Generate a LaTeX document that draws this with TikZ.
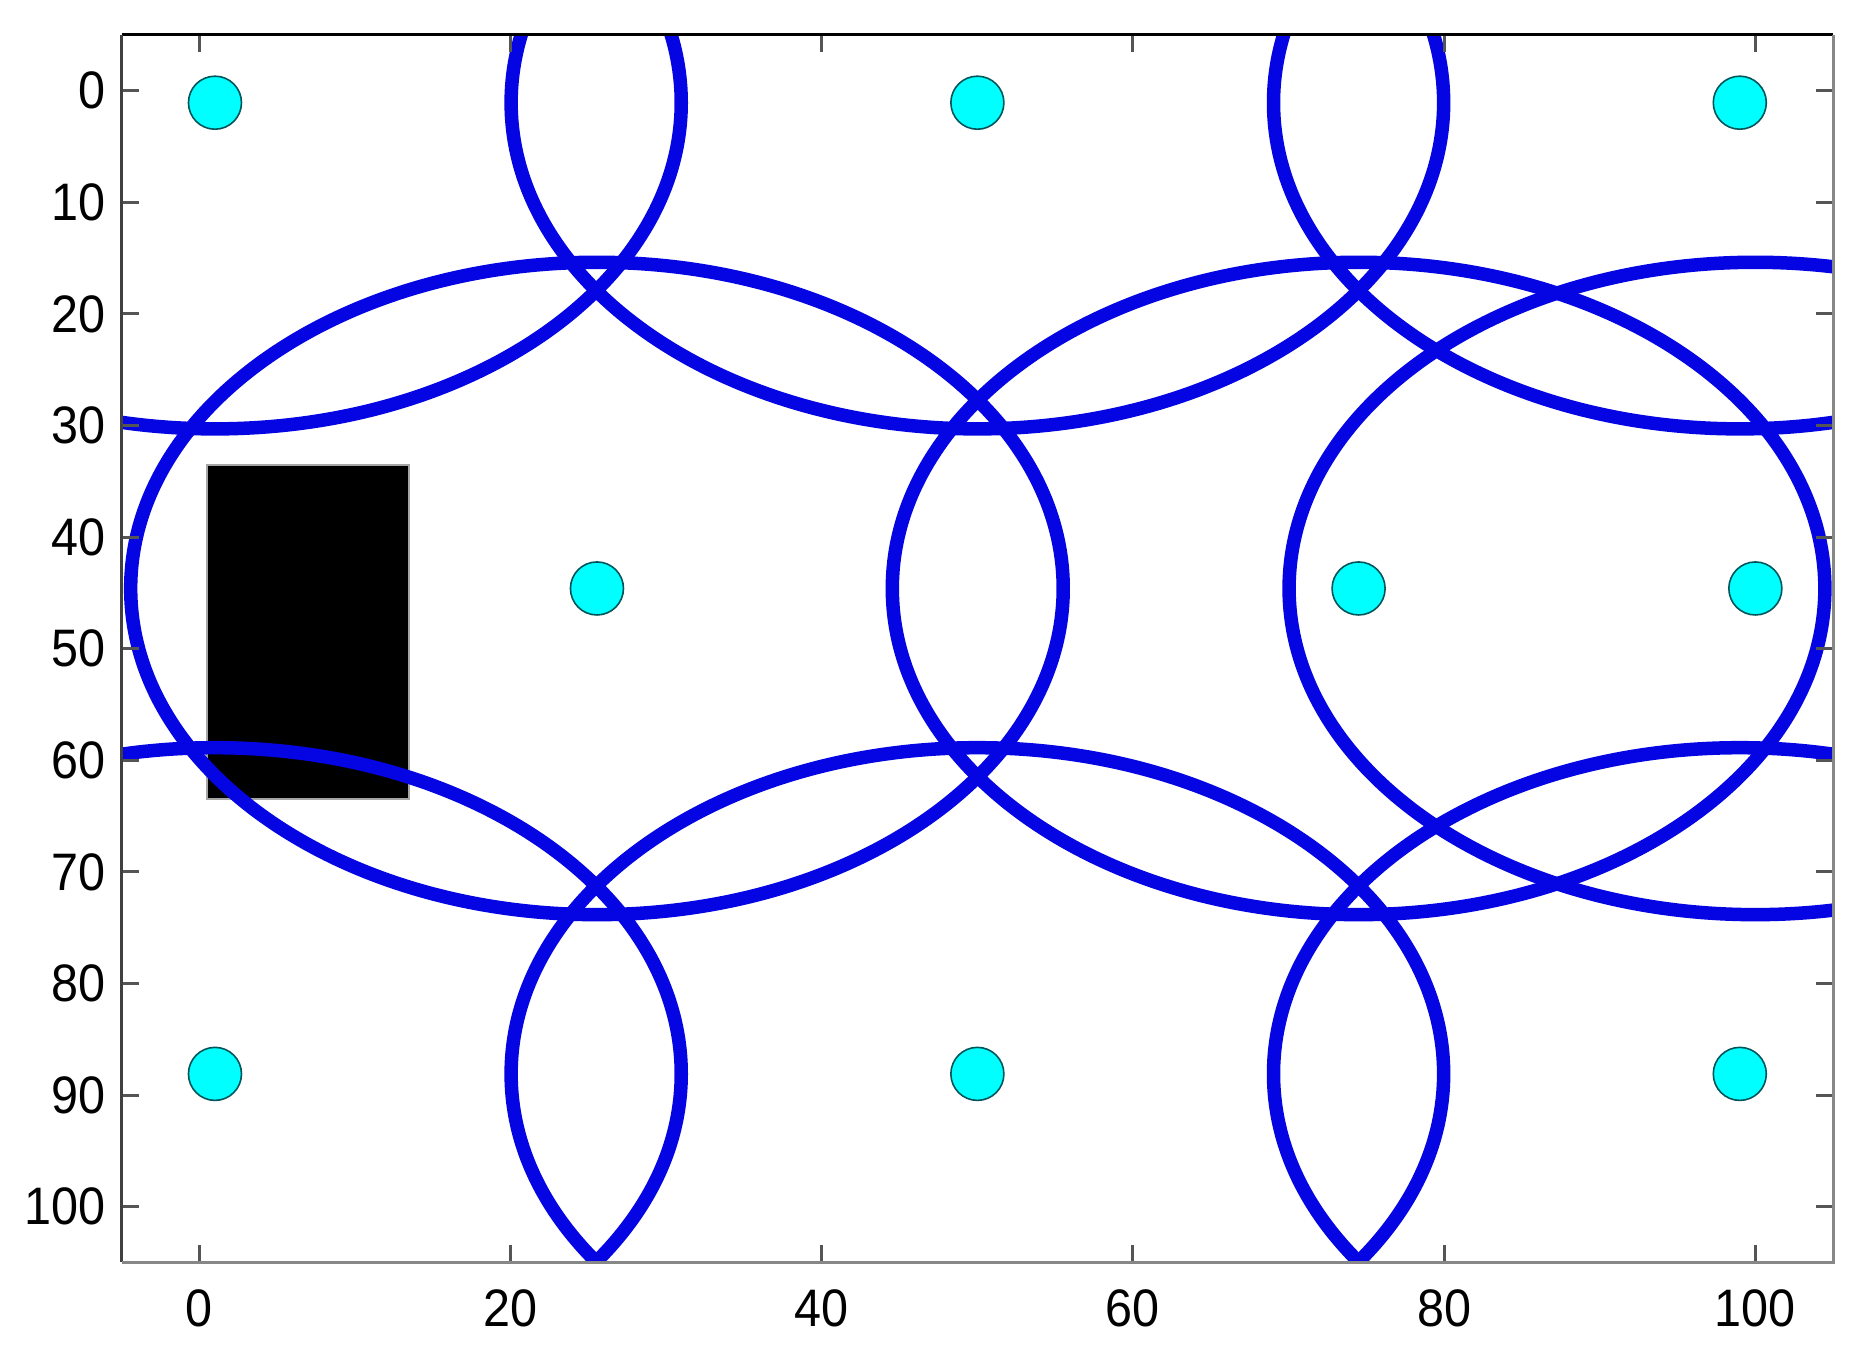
\documentclass[tikz,border=0pt]{standalone}
\usepackage{fontspec}
\setmainfont{Liberation Sans}
\definecolor{ringblue}{RGB}{5,5,228}
\definecolor{dotline}{RGB}{0,85,90}
\definecolor{dotfill}{RGB}{0,255,255}
\definecolor{axgray}{RGB}{135,135,135}
\definecolor{tickgray}{RGB}{85,85,85}
\newcommand{\ticktxt}[1]{\scalebox{0.92}[1]{#1}}
\begin{document}
\begin{tikzpicture}[x=0.01cm,y=-0.01cm,
  ring/.style={draw=ringblue,line width=0.135cm},
  sensor/.style={circle,draw=dotline,line width=0.016cm,fill=dotfill,minimum size=0.53cm,inner sep=0pt},
  obstacle/.style={fill=black,draw=black!35,line width=0.02cm},
  tickmark/.style={draw=tickgray,line width=0.03cm},
  ylab/.style={anchor=east,inner sep=0pt,font=\fontsize{15}{18}\selectfont},
  xlab/.style={anchor=center,inner sep=0pt,font=\fontsize{15}{18}\selectfont}]
\useasboundingbox (0,0) rectangle (1870,1360);
\fill[white] (0,0) rectangle (1870,1360);
\begin{scope}[shift={(1.993cm,-0.907cm)},x=0.1555cm,y=-0.11153cm]
  % plotting area
  \coordinate (tl) at (-5,-5);
  \coordinate (br) at (105,105);
  \begin{scope}
    \clip (tl) rectangle (br);
    \draw[obstacle] (0.5,33.5) rectangle (13.5,63.5);
    \foreach \cx/\cy in {1/1.07,50/1.07,99/1.07,25.55/44.6,74.5/44.6,100/44.6,1/88.1,50/88.1,99/88.1}
      \draw[ring] (\cx,\cy) ellipse [x radius=4.66cm, y radius=3.26cm];
  \end{scope}
  % sensors
  \node[sensor] (s1) at (1,1.07) {};
  \node[sensor] (s2) at (50,1.07) {};
  \node[sensor] (s3) at (99,1.07) {};
  \node[sensor] (s4) at (25.55,44.6) {};
  \node[sensor] (s5) at (74.5,44.6) {};
  \node[sensor] (s6) at (100,44.6) {};
  \node[sensor] (s7) at (1,88.1) {};
  \node[sensor] (s8) at (50,88.1) {};
  \node[sensor] (s9) at (99,88.1) {};
  % ticks
  \foreach \t in {0,20,...,100} {
    \draw[tickmark] (\t,105) -- ++(0,-1.55);
    \draw[tickmark] (\t,-5) -- ++(0,1.55);
    \node[xlab] (xl\t) at ([yshift=-0.455cm]\t,105) {\ticktxt{\t}};
  }
  \foreach \t in {0,10,...,100} {
    \draw[tickmark] (-5,\t) -- ++(1.1,0);
    \draw[tickmark] (105,\t) -- ++(-1.1,0);
    \node[ylab] (yl\t) at ([xshift=-0.155cm]-5,\t) {\ticktxt{\t}};
  }
  % axes box
  \draw[black,line width=0.03cm] (-5,-5) -- (105,-5);
  \draw[black!75,line width=0.03cm] (-5,-5) -- (-5,105);
  \draw[axgray,line width=0.03cm] (-5,105) -- (105,105) -- (105,-5);
\end{scope}
\end{tikzpicture}
\end{document}
